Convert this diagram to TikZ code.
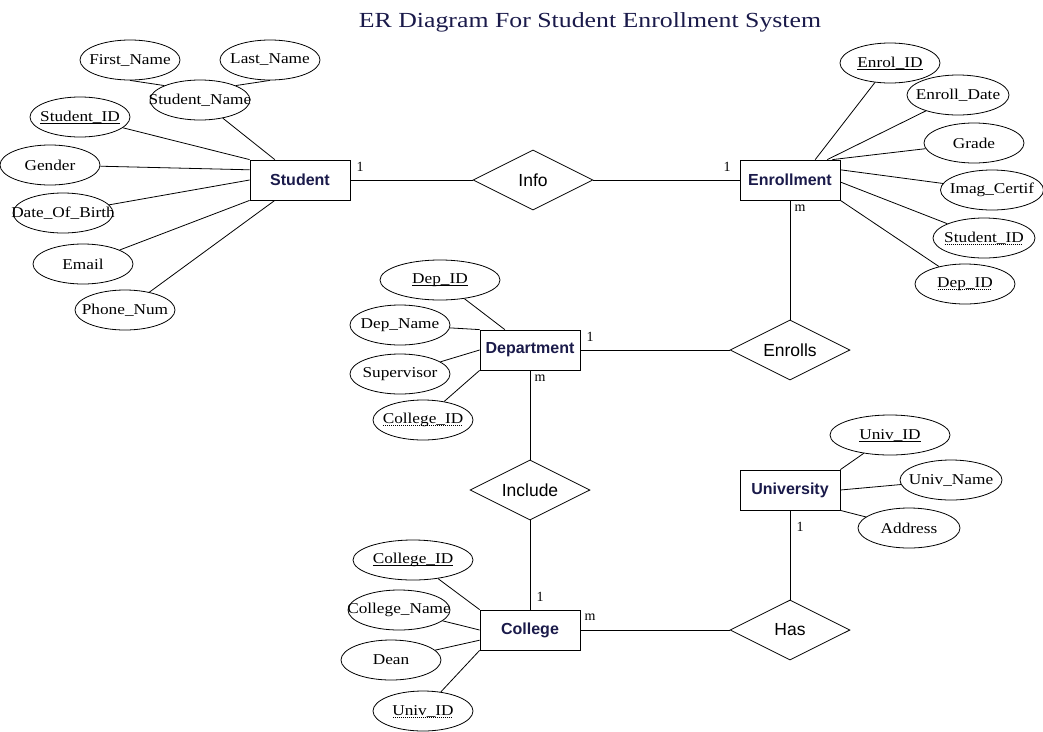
\documentclass[tikz,border=0pt]{standalone}
\usepackage{fontspec}
\setmainfont{Liberation Serif}
\newfontfamily\entfont{Liberation Sans}
\newfontfamily\attrfont[FakeStretch=1.15]{Liberation Serif}
\newfontfamily\titlefont[FakeStretch=1.2]{Liberation Serif}
\usetikzlibrary{shapes.geometric,calc}
\definecolor{navy}{HTML}{1A1A4A}
\newcommand\ulsolid[1]{\setbox0\hbox{#1}\setbox2\hbox to 0pt{\vrule height -1.6pt depth 2.4pt width \wd0\hss}\ht2=0pt\dp2=0pt\box2\box0}
\newcommand\uldot[1]{\setbox0\hbox{#1}\setbox2\hbox to 0pt{\hbox to \wd0{\leaders\hbox to 2pt{\hss\vrule width 1pt height -1.6pt depth 2.4pt\hss}\hfill}\hss}\ht2=0pt\dp2=0pt\box2\box0}
\tikzset{
  ent/.style={draw, rectangle, minimum width=100pt, minimum height=40pt, inner sep=0pt,
    font=\entfont\bfseries\fontsize{16}{18}\selectfont, text=navy},
  rel/.style={draw, diamond, minimum width=120pt, minimum height=60pt, inner sep=0pt, aspect=2,
    font=\entfont\fontsize{17.5}{20}\selectfont},
  attr/.style={draw, ellipse, minimum width=100pt, minimum height=40pt, inner sep=0pt},
  atxt/.style={inner sep=0pt, font=\attrfont\fontsize{15}{18}\selectfont},
  card/.style={inner sep=0pt, font=\fontsize{14}{16}\selectfont},
  ttl/.style={inner sep=0pt, font=\titlefont\fontsize{21.5}{26}\selectfont, text=navy},
  every path/.style={line width=0.8pt}
}
\begin{document}
\begin{tikzpicture}[x=1pt,y=-1pt]
\useasboundingbox (0,0) rectangle (1043,731);
\node[ttl] (title) at (590,22) {ER Diagram For Student Enrollment System};

% entities
\node[ent] (st) at (300,180) {Student};
\node[ent] (en) at (790,180) {Enrollment};
\node[ent] (dp) at (530,350) {Department};
\node[ent] (co) at (530,630) {College};
\node[ent] (un) at (790,490) {University};

% relationships
\node[rel] (info) at (533,180) {Info};
\node[rel] (enr) at (790,350) {Enrolls};
\node[rel] (inc) at (530,490) {Include};
\node[rel] (has) at (790,630) {Has};

% student attributes
\node[attr] (fn) at (130,60) {};   \node[atxt] (fn-t) at (fn) {First\_Name};
\node[attr] (ln) at (270,60) {};   \node[atxt] (ln-t) at (ln) {Last\_Name};
\node[attr] (sn) at (200,100) {};  \node[atxt] (sn-t) at (sn) {Student\_Name};
\node[attr] (sid) at (80,117) {};  \node[atxt] (sid-t) at (sid) {\ulsolid{Student\_ID}};
\node[attr] (gen) at (50,165) {};  \node[atxt] (gen-t) at (gen) {Gender};
\node[attr] (dob) at (63,213) {};  \node[atxt] (dob-t) at (dob) {Date\_Of\_Birth};
\node[attr] (em) at (83,264) {};   \node[atxt] (em-t) at (em) {Email};
\node[attr] (ph) at (125,310) {};  \node[atxt] (ph-t) at (ph) {Phone\_Num};

% enrollment attributes
\node[attr] (eid) at (890,63) {};  \node[atxt] (eid-t) at (eid) {\ulsolid{Enrol\_ID}};
\node[attr,minimum width=102pt] (edt) at (958,95) {}; \node[atxt] (edt-t) at (edt) {Enroll\_Date};
\node[attr] (gr) at (974,143) {};  \node[atxt] (gr-t) at (gr) {Grade};
\node[attr,minimum width=103pt] (img) at (992,190) {}; \node[atxt] (img-t) at (img) {Imag\_Certif};
\node[attr,minimum width=102pt] (esid) at (984,238) {}; \node[atxt] (esid-t) at (esid) {\uldot{Student\_ID}};
\node[attr] (edid) at (965,284) {}; \node[atxt] (edid-t) at (edid) {\uldot{Dep\_ID}};

% department attributes
\node[attr,minimum width=120pt] (did) at (440,280) {}; \node[atxt] (did-t) at (did) {\ulsolid{Dep\_ID}};
\node[attr] (dnm) at (400,325) {}; \node[atxt] (dnm-t) at (dnm) {Dep\_Name};
\node[attr] (sup) at (400,374) {}; \node[atxt] (sup-t) at (sup) {Supervisor};
\node[attr] (dcid) at (423,420) {}; \node[atxt] (dcid-t) at (dcid) {\uldot{College\_ID}};

% college attributes
\node[attr,minimum width=120pt] (cid) at (413,560) {}; \node[atxt] (cid-t) at (cid) {\ulsolid{College\_ID}};
\node[attr,minimum width=102pt] (cnm) at (399,610) {}; \node[atxt] (cnm-t) at (cnm) {College\_Name};
\node[attr] (dean) at (391,660) {}; \node[atxt] (dean-t) at (dean) {Dean};
\node[attr] (cuid) at (423,711) {}; \node[atxt] (cuid-t) at (cuid) {\uldot{Univ\_ID}};

% university attributes
\node[attr,minimum width=120pt] (uid) at (890,435) {}; \node[atxt] (uid-t) at (uid) {\ulsolid{Univ\_ID}};
\node[attr,minimum width=102pt] (unm) at (951,480) {}; \node[atxt] (unm-t) at (unm) {Univ\_Name};
\node[attr,minimum width=102pt] (adr) at (909,528) {}; \node[atxt] (adr-t) at (adr) {Address};

% attribute links
\draw (fn.south) -- (sn.north west);
\draw (ln.south) -- (sn.north east);
\draw (sn) -- ($(st.north west)!.25!(st.north east)$);
\draw (sid) -- (st.north west);
\draw (gen) -- ($(st.north west)!.25!(st.south west)$);
\draw (dob) -- (st.west);
\draw (em) -- (st.south west);
\draw (ph) -- ($(st.south west)!.25!(st.south east)$);

\draw (eid) -- ($(en.north west)!.75!(en.north east)$);
\draw (edt) -- ($(en.north west)!.87!(en.north east)$);
\draw (gr) -- ($(en.north west)!.92!(en.north east)$);
\draw (img) -- ($(en.north east)!.25!(en.south east)$);
\draw (esid) -- ($(en.north east)!.55!(en.south east)$);
\draw (edid) -- (en.south east);

\draw (did) -- ($(dp.north west)!.25!(dp.north east)$);
\draw (dnm) -- (dp.north west);
\draw (sup) -- (dp.west);
\draw (dcid) -- (dp.south west);

\draw (cid) -- (co.north west);
\draw (cnm) -- (co.west);
\draw (dean) -- ($(co.north west)!.75!(co.south west)$);
\draw (cuid) -- (co.south west);

\draw (uid) -- (un.north east);
\draw (unm) -- (un.east);
\draw (adr) -- (un.south east);

% relationship links
\draw (st.east) -- (info.west);
\draw (info.east) -- (en.west);
\draw (en.south) -- (enr.north);
\draw (dp.east) -- (enr.west);
\draw (dp.south) -- (inc.north);
\draw (inc.south) -- (co.north);
\draw (co.east) -- (has.west);
\draw (un.south) -- (has.north);

% cardinalities
\node[card] (c1) at (360,167) {1};
\node[card] (c2) at (727,167) {1};
\node[card] (c3) at (800,208) {m};
\node[card] (c4) at (590,337) {1};
\node[card] (c5) at (540,378) {m};
\node[card] (c6) at (540,597) {1};
\node[card] (c7) at (590,617) {m};
\node[card] (c8) at (800,527) {1};
\end{tikzpicture}
\end{document}
